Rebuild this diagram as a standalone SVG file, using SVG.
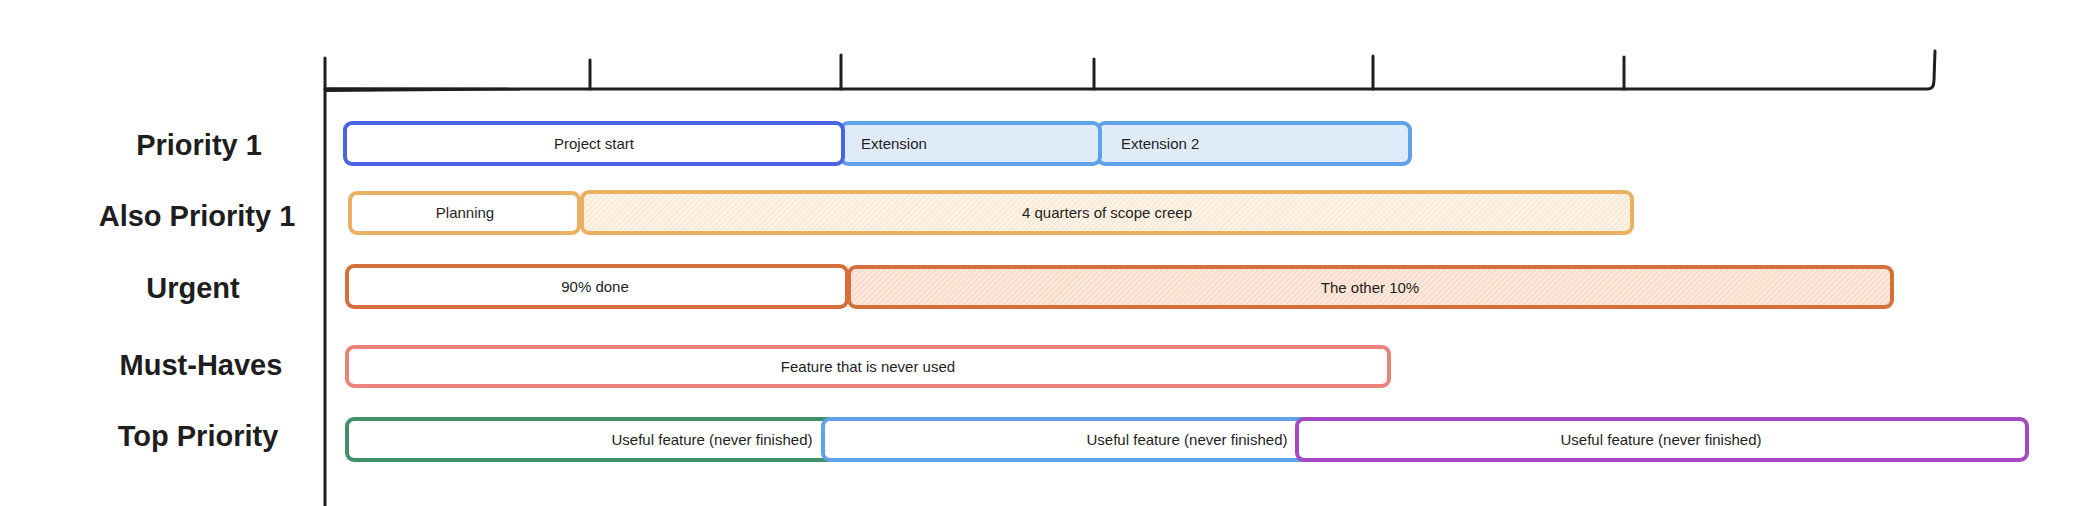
<svg xmlns="http://www.w3.org/2000/svg" width="2074" height="506" viewBox="0 0 2074 506">
<defs>
<pattern id="hatchA" width="4" height="4" patternUnits="userSpaceOnUse" patternTransform="rotate(45)">
<rect width="4" height="4" fill="#fdf2e6"/>
<line x1="0" y1="0" x2="0" y2="4" stroke="#f3cfa6" stroke-width="0.8"/>
</pattern>
<pattern id="hatchB" width="4" height="4" patternUnits="userSpaceOnUse" patternTransform="rotate(45)">
<rect width="4" height="4" fill="#fbe8da"/>
<line x1="0" y1="0" x2="0" y2="4" stroke="#efb895" stroke-width="0.8"/>
</pattern>
</defs>
<style>
.lbl{font-family:"Liberation Sans",Arial,sans-serif;font-weight:bold;font-size:29px;fill:#1e1e1e;text-anchor:middle;dominant-baseline:central}
.t{font-family:"Liberation Sans",Arial,sans-serif;font-size:15px;fill:#1e1e1e;dominant-baseline:central}
.c{text-anchor:middle}
.bar{stroke-width:4;stroke-linejoin:round}
.ax{stroke:#1e1e1e;stroke-width:3;fill:none;stroke-linecap:round}
</style>
<rect width="2074" height="506" fill="#ffffff"/>

<g id="axes">
<line class="ax" x1="325" y1="58" x2="325" y2="506"/>
<path class="ax" d="M325 89 L1928 89 Q1934 89 1934 80 L1935 51"/>
<path d="M325 87.5 L520 87.8 L520 90.5 L325 92 Z" fill="#1e1e1e"/>
<line class="ax" x1="590" y1="60" x2="590" y2="89"/>
<line class="ax" x1="841" y1="55" x2="841" y2="89"/>
<line class="ax" x1="1094" y1="59" x2="1094" y2="89"/>
<line class="ax" x1="1373" y1="56" x2="1373" y2="89"/>
<line class="ax" x1="1624" y1="57" x2="1624" y2="89"/>
</g>

<g id="labels">
<text class="lbl" x="199" y="145">Priority 1</text>
<text class="lbl" x="197" y="216">Also Priority 1</text>
<text class="lbl" x="193" y="288">Urgent</text>
<text class="lbl" x="201" y="365">Must-Haves</text>
<text class="lbl" x="198" y="436">Top Priority</text>
</g>

<g id="extension2">
<rect class="bar" x="1098" y="123" width="312" height="41" rx="7" fill="#dfebf9" stroke="#5fa2ea"/>
<text class="t" x="1121" y="143.5">Extension 2</text>
</g>
<g id="extension">
<rect class="bar" x="841" y="123" width="259" height="41" rx="7" fill="#dfebf9" stroke="#5fa2ea"/>
<text class="t" x="861" y="143.5">Extension</text>
</g>
<g id="project-start">
<rect class="bar" x="345" y="123" width="498" height="41" rx="7" fill="#ffffff" stroke="#4a63e3"/>
<text class="t c" x="594" y="143.5">Project start</text>
</g>

<g id="planning">
<rect class="bar" x="350" y="193" width="229" height="40" rx="7" fill="#ffffff" stroke="#ecb062"/>
<text class="t c" x="465" y="212.5">Planning</text>
</g>
<g id="scope-creep">
<rect class="bar" x="582" y="192" width="1050" height="41" rx="7" fill="url(#hatchA)" stroke="#ecb062"/>
<text class="t c" x="1107" y="212.5">4 quarters of scope creep</text>
</g>

<g id="ninety-done">
<rect class="bar" x="347" y="266" width="500" height="41" rx="7" fill="#ffffff" stroke="#d6703a"/>
<text class="t c" x="595" y="286.5">90% done</text>
</g>
<g id="other-ten">
<rect class="bar" x="849" y="267" width="1043" height="40" rx="7" fill="url(#hatchB)" stroke="#d6703a"/>
<text class="t c" x="1370" y="287">The other 10%</text>
</g>

<g id="never-used">
<rect class="bar" x="347" y="347" width="1042" height="39" rx="7" fill="#ffffff" stroke="#ec827c"/>
<text class="t c" x="868" y="366.5">Feature that is never used</text>
</g>

<g id="useful-green">
<rect class="bar" x="347" y="419" width="725" height="41" rx="7" fill="#ffffff" stroke="#40916a"/>
<text class="t c" x="712" y="439.5">Useful feature (never finished)</text>
</g>
<g id="useful-blue">
<rect class="bar" x="823" y="419" width="722" height="41" rx="7" fill="#ffffff" stroke="#5fa2ea"/>
<text class="t c" x="1187" y="439.5">Useful feature (never finished)</text>
</g>
<g id="useful-purple">
<rect class="bar" x="1297" y="419" width="730" height="41" rx="7" fill="#ffffff" stroke="#a548c6"/>
<text class="t c" x="1661" y="439.5">Useful feature (never finished)</text>
</g>
</svg>
